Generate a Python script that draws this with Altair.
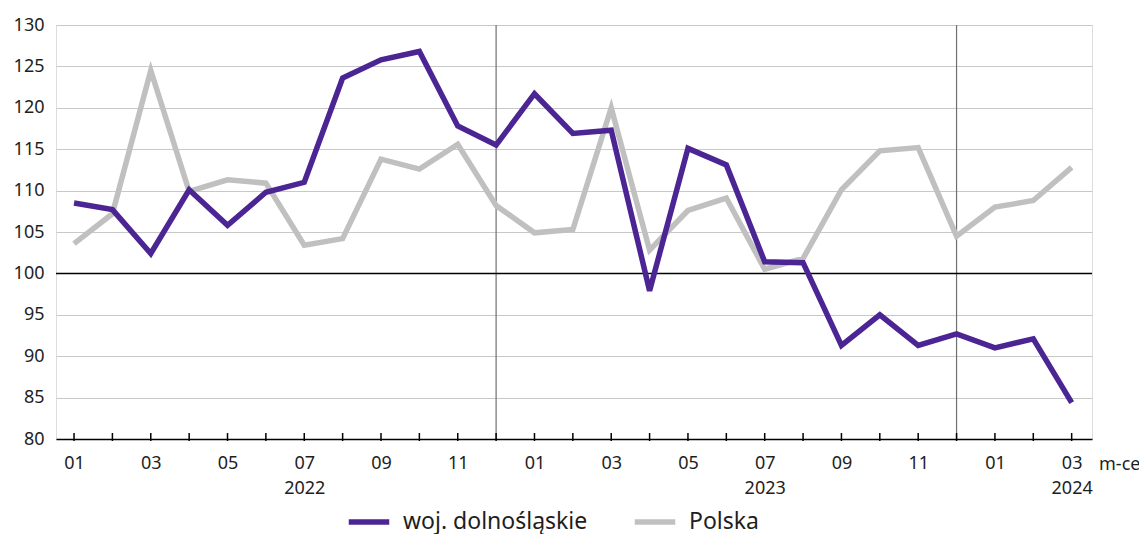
import altair as alt
import pandas as pd

# ---- data ----
month_labels = ["01", "02", "03", "04", "05", "06", "07", "08", "09", "10", "11", "12",
                "01", "02", "03", "04", "05", "06", "07", "08", "09", "10", "11", "12",
                "01", "02", "03"]
year_labels = {6: "2022", 18: "2023", 26: "2024"}
dolnoslaskie = [108.5, 107.7, 102.4, 110.1, 105.8, 109.8, 111.0, 123.6, 125.8, 126.8,
                117.8, 115.5, 121.7, 116.9, 117.3, 97.9, 115.1, 113.1, 101.4, 101.3,
                91.3, 95.0, 91.3, 92.7, 91.0, 92.1, 84.4]
polska = [103.6, 107.2, 124.5, 109.9, 111.3, 110.9, 103.4, 104.2, 113.8, 112.6,
          115.6, 108.2, 104.9, 105.3, 120.0, 102.8, 107.6, 109.1, 100.5, 101.8,
          110.1, 114.8, 115.2, 104.5, 108.0, 108.8, 112.8]
series_names = ["woj. dolnośląskie", "Polska"]
series_colors = ["#4b2594", "#c0c0c0"]
year_breaks = [11, 23]
reference_level = [100]
y_ticks = [80, 85, 90, 95, 100, 105, 110, 115, 120, 125, 130]
x_unit = ["m-ce"]

FONT = "Noto Sans"
TXT = "#1e1e1e"
FS = 18
W, H = 1036, 414

rows = []
for i, v in enumerate(dolnoslaskie):
    rows.append({"idx": i, "value": v, "series": series_names[0]})
for i, v in enumerate(polska):
    rows.append({"idx": i, "value": v, "series": series_names[1]})
df = pd.DataFrame(rows)

# multi-line labels for the x axis
parts = []
for i, m in enumerate(month_labels):
    if i in year_labels:
        parts.append("['%s','%s']" % (m, year_labels[i]))
    else:
        parts.append("'%s'" % m)
label_expr = "[" + ",".join(parts) + "][datum.value]"

x_scale = alt.Scale(domain=[-0.47, 26.53], nice=False, zero=False)
y_scale = alt.Scale(domain=[80, 130], nice=False, zero=False)
color_scale = alt.Scale(domain=series_names, range=series_colors)

x_axis = alt.Axis(values=list(range(0, 27, 2)), labelExpr=label_expr, ticks=False,
                  grid=False, domain=True, domainColor="#000000", domainWidth=1.5,
                  labelFontSize=FS, labelFont=FONT, labelColor=TXT, labelPadding=15,
                  labelLineHeight=25, labelBaseline="top", title=None, labelFlush=False)
y_axis = alt.Axis(values=y_ticks, grid=True, gridColor="#c8c8c8", gridWidth=1,
                  domain=False, ticks=False, labelFontSize=FS, labelFont=FONT,
                  labelColor=TXT, labelPadding=12, title=None)

legend = alt.Legend(orient="none", legendX=290, legendY=474, direction="horizontal",
                    title=None, symbolType="stroke", symbolStrokeWidth=5.5,
                    symbolSize=1640, labelFontSize=23, labelFont=FONT,
                    labelColor=TXT, labelOffset=11, columnPadding=35, padding=0,
                    labelLimit=400)

base = alt.Chart(df)

grid_layer = base.mark_line(opacity=0).encode(
    x=alt.X("idx:Q", scale=x_scale, axis=x_axis),
    y=alt.Y("value:Q", scale=y_scale, axis=y_axis),
)

vlines = alt.Chart(pd.DataFrame({"idx": year_breaks})).mark_rule(
    color="#707070", strokeWidth=1.2).encode(
    x=alt.X("idx:Q", scale=x_scale), y=alt.value(0), y2=alt.value(H))

hline = alt.Chart(pd.DataFrame({"v": reference_level})).mark_rule(
    color="#000000", strokeWidth=1.5).encode(
    y=alt.Y("v:Q", scale=y_scale), x=alt.value(0), x2=alt.value(W))

ticks = alt.Chart(pd.DataFrame({"idx": list(range(len(month_labels)))})).mark_rule(
    color="#000000", strokeWidth=1.5).encode(
    x=alt.X("idx:Q", scale=x_scale), y=alt.value(H - 6), y2=alt.value(H + 2))

def series_line(name):
    return base.transform_filter(alt.datum.series == name).mark_line(
        strokeWidth=5.5, strokeJoin="miter").encode(
        x=alt.X("idx:Q", scale=x_scale),
        y=alt.Y("value:Q", scale=y_scale),
        color=alt.Color("series:N", scale=color_scale, legend=legend),
    )

unit_text = alt.Chart(pd.DataFrame({"t": x_unit})).mark_text(
    align="left", baseline="middle", fontSize=FS, font=FONT, color=TXT).encode(
    text="t:N", x=alt.value(W + 7), y=alt.value(H + 26))

chart = alt.layer(
    grid_layer, vlines, hline, series_line(series_names[1]),
    series_line(series_names[0]), ticks, unit_text
).properties(
    width=W, height=H,
    autosize=alt.AutoSizeParams(type="none"),
    padding={"left": 48, "top": 17, "right": 47, "bottom": 95},
).configure_view(stroke=None).configure(background="white")

chart.save("out.html", embed_options={"renderer": "svg", "actions": False})
